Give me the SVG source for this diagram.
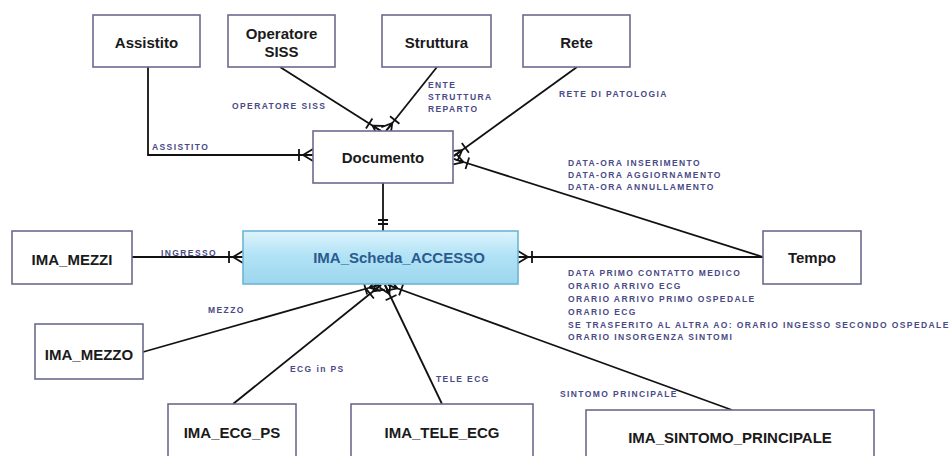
<svg xmlns="http://www.w3.org/2000/svg" width="952" height="456" viewBox="0 0 952 456">
  <defs>
    <style>
      .box { fill: #ffffff; stroke: #6b6b8e; stroke-width: 1.6; }
      .main { fill: url(#mainFill); stroke: #6cb6d6; stroke-width: 1.6; }
      .name { font-family: "Liberation Sans", Arial, sans-serif; font-size: 15px; font-weight: bold; fill: #1a1a1a; text-anchor: middle; }
      .mainName { font-family: "Liberation Sans", Arial, sans-serif; font-size: 15px; font-weight: bold; fill: #2b5a8e; text-anchor: middle; }
      .lbl { font-family: "Liberation Sans", Arial, sans-serif; font-size: 8.5px; font-weight: bold; letter-spacing: 1.4px; fill: #4a4a86; }
      .link { fill: none; stroke: #111111; stroke-width: 1.8; }
      .many { marker-end: url(#oneToMany); }
    </style>
    <linearGradient id="mainFill" x1="0" y1="0" x2="0" y2="1">
      <stop offset="0" stop-color="#def4fc"/>
      <stop offset="0.45" stop-color="#b2e3f6"/>
      <stop offset="1" stop-color="#9cd6ee"/>
    </linearGradient>
    <!-- crow's foot (many) with a bar (mandatory) at the entity end -->
    <marker id="oneToMany" viewBox="-20 -10 22 20" refX="0" refY="0" markerWidth="22" markerHeight="20" markerUnits="userSpaceOnUse" orient="auto">
      <path d="M-10,0 L0,-6 M-10,0 L0,0 M-10,0 L0,6 M-14,-6 L-14,6" fill="none" stroke="#111111" stroke-width="1.8"/>
    </marker>
    <!-- double bar (exactly one) -->
    <marker id="exactlyOne" viewBox="-20 -10 22 20" refX="0" refY="0" markerWidth="22" markerHeight="20" markerUnits="userSpaceOnUse" orient="auto">
      <path d="M-7,-5 L-7,5 M-11,-5 L-11,5" fill="none" stroke="#111111" stroke-width="1.8"/>
    </marker>
  </defs>

  <rect width="952" height="456" fill="#ffffff"/>

  <!-- relationships -->
  <g id="connectors">
    <path class="link many" d="M148,67 L148,155 L313,155"/>
    <path class="link many" d="M280,67 L381,131"/>
    <path class="link many" d="M437,67 L386,131"/>
    <path class="link many" d="M577,67 L454,156"/>
    <path class="link many" d="M763,257 L454,159"/>
    <path class="link" d="M383,183 L383,231" marker-end="url(#exactlyOne)"/>
    <path class="link many" d="M132,257 L243,257"/>
    <path class="link many" d="M763,257 L518,257"/>
    <path class="link many" d="M143,352 L379,285"/>
    <path class="link many" d="M233,404 L381,285"/>
    <path class="link many" d="M442,404 L385,285"/>
    <path class="link many" d="M732,410 L388,285"/>

    <text class="lbl" x="152" y="150">ASSISTITO</text>
    <text class="lbl" x="232" y="109">OPERATORE SISS</text>
    <text class="lbl" x="428" y="88">ENTE</text>
    <text class="lbl" x="428" y="100">STRUTTURA</text>
    <text class="lbl" x="428" y="112">REPARTO</text>
    <text class="lbl" x="559" y="97">RETE DI PATOLOGIA</text>
    <text class="lbl" x="568" y="166">DATA-ORA INSERIMENTO</text>
    <text class="lbl" x="568" y="178">DATA-ORA AGGIORNAMENTO</text>
    <text class="lbl" x="568" y="190">DATA-ORA ANNULLAMENTO</text>
    <text class="lbl" x="161" y="256">INGRESSO</text>
    <text class="lbl" x="568" y="276">DATA PRIMO CONTATTO MEDICO</text>
    <text class="lbl" x="568" y="289">ORARIO ARRIVO ECG</text>
    <text class="lbl" x="568" y="302">ORARIO ARRIVO PRIMO OSPEDALE</text>
    <text class="lbl" x="568" y="315">ORARIO ECG</text>
    <text class="lbl" x="568" y="328">SE TRASFERITO AL ALTRA AO: ORARIO INGESSO SECONDO OSPEDALE</text>
    <text class="lbl" x="568" y="340">ORARIO INSORGENZA SINTOMI</text>
    <text class="lbl" x="208" y="313">MEZZO</text>
    <text class="lbl" x="290" y="372">ECG in PS</text>
    <text class="lbl" x="436" y="382">TELE ECG</text>
    <text class="lbl" x="560" y="397">SINTOMO PRINCIPALE</text>
  </g>

  <g id="assistito">
    <rect class="box" x="93" y="15" width="107" height="52"/>
    <text class="name" x="146.5" y="48">Assistito</text>
  </g>
  <g id="operatore-siss">
    <rect class="box" x="228" y="15" width="107" height="52"/>
    <text class="name" x="281.5" y="39">Operatore</text>
    <text class="name" x="281.5" y="57">SISS</text>
  </g>
  <g id="struttura">
    <rect class="box" x="382" y="15" width="109" height="52"/>
    <text class="name" x="436.5" y="48">Struttura</text>
  </g>
  <g id="rete">
    <rect class="box" x="523" y="15" width="107" height="52"/>
    <text class="name" x="576.5" y="48">Rete</text>
  </g>
  <g id="documento">
    <rect class="box" x="313" y="131" width="140" height="52"/>
    <text class="name" x="383" y="163">Documento</text>
  </g>
  <g id="ima-scheda-accesso">
    <rect class="main" x="243" y="231" width="275" height="53"/>
    <text class="mainName" x="399" y="263">IMA_Scheda_ACCESSO</text>
  </g>
  <g id="ima-mezzi">
    <rect class="box" x="12" y="231" width="120" height="53"/>
    <text class="name" x="72" y="265">IMA_MEZZI</text>
  </g>
  <g id="tempo">
    <rect class="box" x="763" y="231" width="98" height="53"/>
    <text class="name" x="812" y="263">Tempo</text>
  </g>
  <g id="ima-mezzo">
    <rect class="box" x="35" y="324" width="108" height="55"/>
    <text class="name" x="89" y="360">IMA_MEZZO</text>
  </g>
  <g id="ima-ecg-ps">
    <rect class="box" x="168" y="404" width="128" height="60"/>
    <text class="name" x="232" y="438">IMA_ECG_PS</text>
  </g>
  <g id="ima-tele-ecg">
    <rect class="box" x="351" y="404" width="182" height="60"/>
    <text class="name" x="442" y="438">IMA_TELE_ECG</text>
  </g>
  <g id="ima-sintomo-principale">
    <rect class="box" x="586" y="410" width="288" height="54"/>
    <text class="name" x="730" y="443">IMA_SINTOMO_PRINCIPALE</text>
  </g>
</svg>
